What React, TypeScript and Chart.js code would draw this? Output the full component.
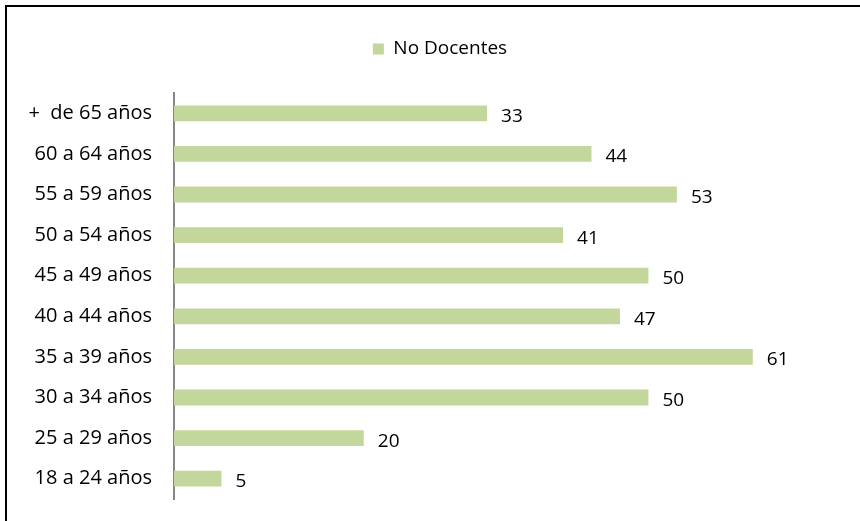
import React, { useEffect, useRef } from "react";
import { Chart, registerables } from "chart.js";

Chart.register(...registerables);

const categories = [
  "+  de 65 años",
  "60 a 64 años",
  "55 a 59 años",
  "50 a 54 años",
  "45 a 49 años",
  "40 a 44 años",
  "35 a 39 años",
  "30 a 34 años",
  "25 a 29 años",
  "18 a 24 años",
];
const noDocentes = [33, 44, 53, 41, 50, 47, 61, 50, 20, 5];
const seriesName = "No Docentes";

const FONT = "'Open Sans', 'Noto Sans', sans-serif";

const valueLabels = {
  id: "valueLabels",
  afterDatasetsDraw(chart: any) {
    const ctx = chart.ctx;
    const meta = chart.getDatasetMeta(0);
    ctx.save();
    ctx.fillStyle = "#000";
    ctx.font = `19px ${FONT}`;
    ctx.textAlign = "left";
    ctx.textBaseline = "middle";
    meta.data.forEach((bar: any, i: number) => {
      ctx.fillText(String(noDocentes[i]), bar.x + 14, bar.y + 3);
    });
    ctx.restore();
  },
};

export default function App() {
  const ref = useRef<HTMLCanvasElement>(null);
  useEffect(() => {
    const chart = new Chart(ref.current!, {
      type: "bar",
      data: {
        labels: categories,
        datasets: [
          {
            label: seriesName,
            data: noDocentes,
            backgroundColor: "#c3d69b",
            borderWidth: 0,
            barPercentage: 0.39,
            categoryPercentage: 1,
          },
        ],
      },
      options: {
        indexAxis: "y",
        responsive: false,
        animation: false,
        layout: { padding: { top: 29.5, right: 0, bottom: 22, left: 20 } },
        plugins: {
          legend: {
            position: "top",
            weight: 3000,
            labels: {
              boxWidth: 11,
              boxHeight: 11,
              color: "#000",
              font: { family: FONT, size: 19 },
              padding: 10,
            },
          },
          title: {
            display: true,
            text: " ",
            position: "top",
            font: { size: 10 },
            padding: { top: 0, bottom: 12.5 },
          },
          tooltip: { enabled: false },
        },
        scales: {
          x: {
            display: false,
            min: 0,
            max: 72.3,
          },
          y: {
            afterFit: (s: any) => {
              s.width = 154;
              s.paddingTop = 0;
              s.paddingBottom = 0;
            },
            grid: { display: false, drawTicks: false },
            border: { display: true, color: "#868686", width: 2 },
            ticks: {
              color: "#000",
              font: { family: FONT, size: 20 },
              padding: 22,
            },
          },
        },
      },
      plugins: [valueLabels],
    });
    return () => chart.destroy();
  }, []);
  return (
    <div
      style={{
        position: "fixed",
        left: 0,
        top: 0,
        width: 860,
        height: 521,
        background: "#fff",
        overflow: "hidden",
      }}
    >
      <div
        style={{
          position: "absolute",
          left: 5,
          top: 5,
          width: 900,
          height: 600,
          borderTop: "2px solid #000",
          borderLeft: "2px solid #000",
          boxSizing: "border-box",
        }}
      />
      <canvas
        ref={ref}
        width={860}
        height={521}
        style={{ position: "absolute", left: 0, top: 0 }}
      />
    </div>
  );
}
